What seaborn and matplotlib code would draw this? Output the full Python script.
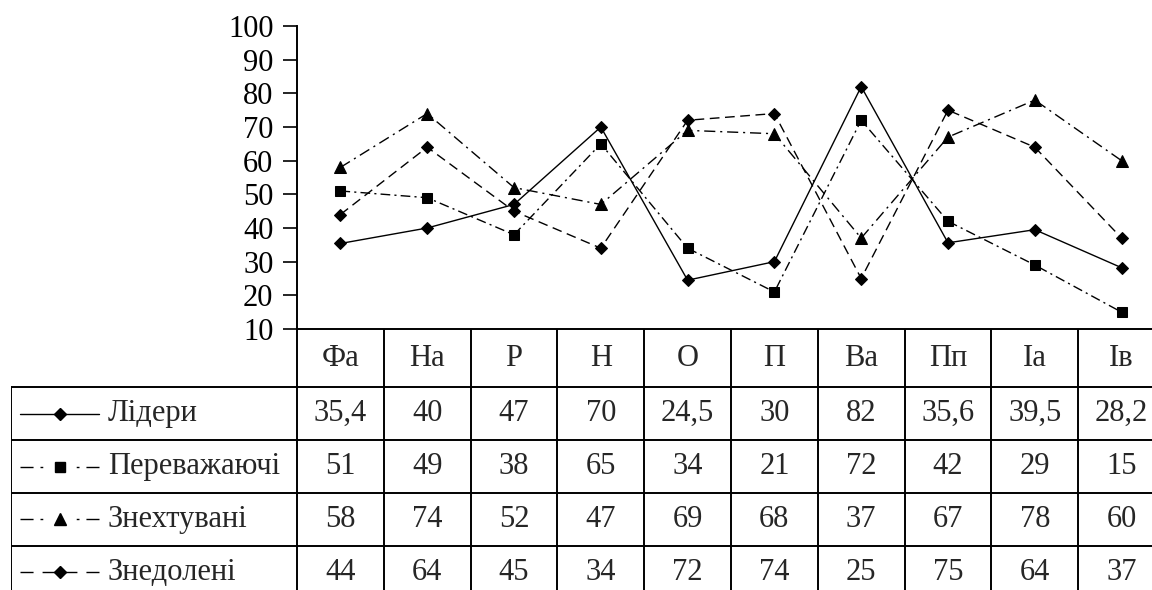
import numpy as np
import matplotlib
matplotlib.use("Agg")
import matplotlib.pyplot as plt
import pandas as pd
import seaborn as sns

# categories (table header) and series values
categories = ['Фа', 'На', 'Р', 'Н', 'О', 'П', 'Ва', 'Пп', 'Іа', 'Ів']
series_names = ['Лідери', 'Переважаючі', 'Знехтувані', 'Знедолені']
lidery = [35.4, 40, 47, 70, 24.5, 30, 82, 35.6, 39.5, 28.2]
perevazh = [51, 49, 38, 65, 34, 21, 72, 42, 29, 15]
znekhtuv = [58, 74, 52, 47, 69, 68, 37, 67, 78, 60]
znedol = [44, 64, 45, 34, 72, 74, 25, 75, 64, 37]
cell_labels = [
    ['35,4', '40', '47', '70', '24,5', '30', '82', '35,6', '39,5', '28,2'],
    ['51', '49', '38', '65', '34', '21', '72', '42', '29', '15'],
    ['58', '74', '52', '47', '69', '68', '37', '67', '78', '60'],
    ['44', '64', '45', '34', '72', '74', '25', '75', '64', '37'],
]
y_ticks = [10, 20, 30, 40, 50, 60, 70, 80, 90, 100]

sns.set_style("white")
plt.rcParams['font.family'] = ['Liberation Serif', 'DejaVu Serif']

all_vals = [lidery, perevazh, znekhtuv, znedol]
x = np.arange(len(categories))
df = pd.concat([pd.DataFrame({'x': x, 'value': v, 'series': n})
                for n, v in zip(series_names, all_vals)], ignore_index=True)

markers = {'Лідери': 'D', 'Переважаючі': 's', 'Знехтувані': '^', 'Знедолені': 'D'}
dashes = {'Лідери': '', 'Переважаючі': (7, 3, 1.5, 3),
          'Знехтувані': (8, 3.5, 1.5, 3.5), 'Знедолені': (7, 4)}
# longer patterns for the keys in the table
key_dashes = {'Лідери': '', 'Переважаючі': (9.4, 5, 2, 5),
              'Знехтувані': (9.4, 5, 2, 5), 'Знедолені': (9.4, 6.5)}
msizes = {'Лідери': 6, 'Переважаючі': 7.5, 'Знехтувані': 8.5, 'Знедолені': 6}
fs = 22

W, H = 1152, 590
fig = plt.figure(figsize=(W / 100, H / 100), dpi=100)
col_w = 86.8
x_left, x_right = 297, 297 + col_w * len(categories)
y_top, y_axis = 26, 329
ax = fig.add_axes([x_left / W, 1 - y_axis / H, (x_right - x_left) / W, (y_axis - y_top) / H])

sns.lineplot(data=df, x='x', y='value', style='series', style_order=series_names,
             markers=markers, dashes=dashes, color='black', linewidth=1.0,
             markeredgecolor='black', legend=False, ax=ax)
for line, n in zip(ax.lines, series_names):
    line.set_markersize(msizes[n])

ax.set_xlim(-0.5, len(categories) - 0.5)
ax.set_ylim(10, 100)
ax.set_yticks(y_ticks)
ax.set_xticks([])
ax.set_xlabel('')
ax.set_ylabel('')
ax.tick_params(axis='y', direction='out', length=10, width=1.2, pad=7,
               labelsize=fs, left=True, colors='black')
for s in ['top', 'right']:
    ax.spines[s].set_visible(False)
for s in ['left', 'bottom']:
    ax.spines[s].set_linewidth(1.4)
    ax.spines[s].set_color('black')
ax.patch.set_alpha(0)

# table below the chart, sharing the column scale
label_w = (297 - 11) / col_w
row_h = 52.9
y_bot = y_axis + row_h * 5.1
tx = fig.add_axes([11 / W, 1 - y_bot / H, (x_right - 11) / W, (y_bot - y_axis) / H])
tx.set_xlim(-0.5 - label_w, len(categories) - 0.5)
tx.set_ylim(5.1, 0)
tx.axis('off')
tx.patch.set_alpha(0)

xl = -0.5 - label_w


def px2x(px):
    return xl + (px - 11) / col_w


lw_t = 1.4
for k in range(len(categories) + 1):
    tx.plot([k - 0.5, k - 0.5], [0, 5.1], color='black', lw=lw_t, solid_capstyle='butt')
tx.plot([xl, xl], [1.1, 5.1], color='black', lw=lw_t)
for r in range(4):
    tx.plot([xl, len(categories) - 0.5], [1.1 + r, 1.1 + r], color='black', lw=lw_t)

for i, c in enumerate(categories):
    tx.text(i, 0.55, c, ha='center', va='center', fontsize=fs)
for r, (n, labs) in enumerate(zip(series_names, cell_labels)):
    yc = 1.6 + r
    for i, lab in enumerate(labs):
        tx.text(i, yc, lab, ha='center', va='center', fontsize=fs)
    # legend key: drawn from both ends towards the marker so it is symmetric
    seq = key_dashes[n]
    if seq == '':
        tx.plot([px2x(20), px2x(99)], [yc, yc], color='black', lw=1.0)
    else:
        inner = 55 if n == 'Знедолені' else 48
        tx.plot([px2x(20), px2x(inner)], [yc, yc], color='black', lw=1.0, linestyle=(0, seq))
        tx.plot([px2x(99), px2x(119 - inner)], [yc, yc], color='black', lw=1.0, linestyle=(0, seq))
    tx.plot([px2x(60)], [yc], marker=markers[n], color='black', ms=msizes[n])
    tx.text(px2x(108), yc, n, ha='left', va='center', fontsize=fs)

fig.savefig('out.png', dpi=100)
